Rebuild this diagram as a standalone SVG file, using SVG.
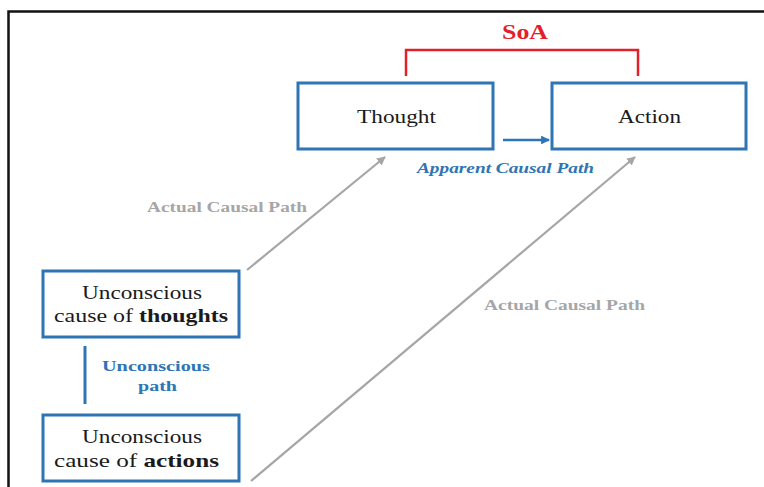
<svg xmlns="http://www.w3.org/2000/svg" width="764" height="487" viewBox="0 0 764 487">
  <style>
    .box { fill: #ffffff; stroke: #2e75b6; stroke-width: 3; }
    .gray-path { stroke: #a6a6a6; stroke-width: 2.2; fill: none; }
  </style>
  <defs>
    <marker id="arrow-gray" viewBox="0 0 10 10" refX="9" refY="5" markerWidth="4" markerHeight="4" orient="auto">
      <path d="M0,0 L10,5 L0,10 z" fill="#a6a6a6"/>
    </marker>
    <marker id="arrow-blue" viewBox="0 0 10 10" refX="9" refY="5" markerWidth="3.5" markerHeight="3.5" orient="auto">
      <path d="M0,0 L10,5 L0,10 z" fill="#2e75b6"/>
    </marker>
  </defs>

  <rect x="0" y="0" width="764" height="487" fill="#ffffff"/>

  <!-- outer frame -->
  <path d="M8.5,487 L8.5,11.5 L764,11.5" fill="none" stroke="#111111" stroke-width="2.5"/>

  <g font-family="Liberation Serif, Times New Roman, serif" text-anchor="middle" lengthAdjust="spacingAndGlyphs">
    <!-- SoA bracket -->
    <g id="soa">
      <path d="M406,76 L406,50 L638,50 L638,76" fill="none" stroke="#e3202a" stroke-width="2.5"/>
      <text x="525" y="39" font-size="20" font-weight="bold" fill="#e3202a" textLength="46" lengthAdjust="spacingAndGlyphs">SoA</text>
    </g>

    <g id="connectors">
      <line x1="503" y1="140" x2="549" y2="140" stroke="#2e75b6" stroke-width="2.5" marker-end="url(#arrow-blue)"/>
      <line class="gray-path" x1="247" y1="270" x2="385" y2="157" marker-end="url(#arrow-gray)"/>
      <line class="gray-path" x1="251" y1="481" x2="635" y2="157" marker-end="url(#arrow-gray)"/>
      <line x1="85" y1="346" x2="85" y2="404" stroke="#2e75b6" stroke-width="3"/>
      <g font-size="15" font-weight="bold">
        <text x="505.5" y="173" fill="#2e75b6" font-style="italic" textLength="177" lengthAdjust="spacingAndGlyphs">Apparent Causal Path</text>
        <text x="227" y="212" fill="#a6a6a6" textLength="160" lengthAdjust="spacingAndGlyphs">Actual Causal Path</text>
        <text x="564.5" y="310" fill="#a6a6a6" textLength="161" lengthAdjust="spacingAndGlyphs">Actual Causal Path</text>
        <text x="156" y="371" fill="#2e75b6" textLength="108" lengthAdjust="spacingAndGlyphs">Unconscious</text>
        <text x="157.5" y="391" fill="#2e75b6" textLength="39" lengthAdjust="spacingAndGlyphs">path</text>
      </g>
    </g>

    <g id="thought">
      <rect class="box" x="298" y="83" width="195" height="66"/>
      <text x="396.5" y="123" font-size="19" fill="#1a1a1a" textLength="79" lengthAdjust="spacingAndGlyphs">Thought</text>
    </g>

    <g id="action">
      <rect class="box" x="552" y="83" width="194" height="66"/>
      <text x="649.5" y="123" font-size="19" fill="#1a1a1a" textLength="63" lengthAdjust="spacingAndGlyphs">Action</text>
    </g>

    <g id="cause-thoughts">
      <rect class="box" x="43" y="271" width="196" height="66"/>
      <text x="142" y="299" font-size="19" fill="#1a1a1a" textLength="120" lengthAdjust="spacingAndGlyphs">Unconscious</text>
      <text x="141" y="322" font-size="19" fill="#1a1a1a" textLength="174" lengthAdjust="spacingAndGlyphs">cause of <tspan font-weight="bold">thoughts</tspan></text>
    </g>

    <g id="cause-actions">
      <rect class="box" x="43" y="415" width="196" height="66"/>
      <text x="142" y="443" font-size="19" fill="#1a1a1a" textLength="120" lengthAdjust="spacingAndGlyphs">Unconscious</text>
      <text x="136.5" y="467" font-size="19" fill="#1a1a1a" textLength="165" lengthAdjust="spacingAndGlyphs">cause of <tspan font-weight="bold">actions</tspan></text>
    </g>
  </g>
</svg>
